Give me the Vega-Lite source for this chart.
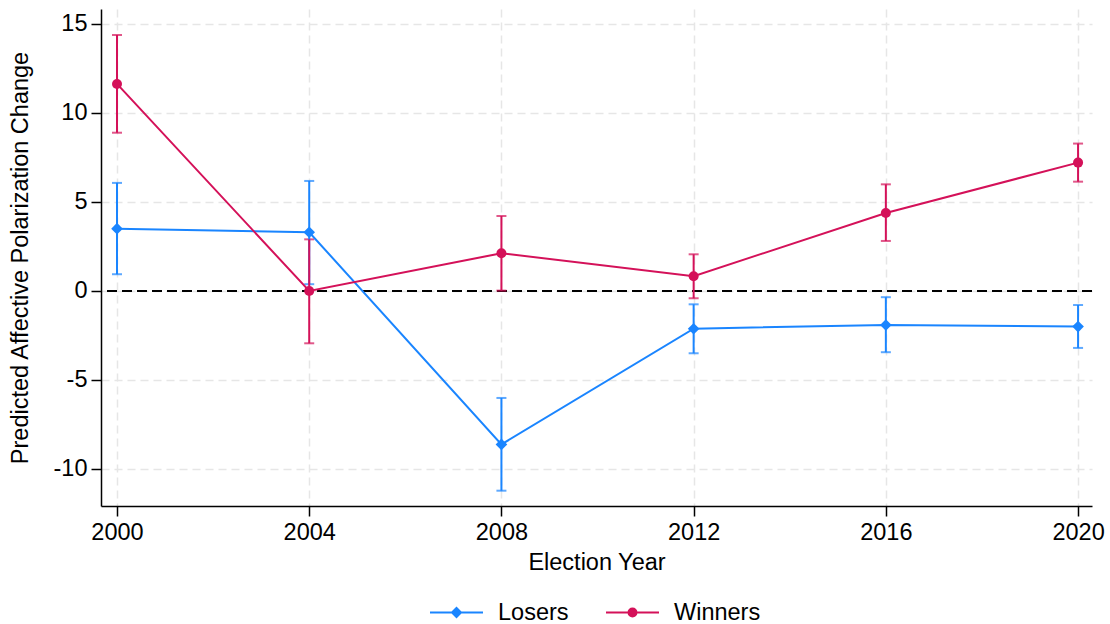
{
  "$schema": "https://vega.github.io/schema/vega-lite/v6.json",
  "width": 991,
  "height": 497,
  "autosize": {"type": "none"},
  "padding": {"left": 101, "top": 9, "right": 18, "bottom": 118},
  "background": "white",
  "config": {
    "font": "Liberation Sans",
    "view": {"stroke": null},
    "axis": {
      "labelFont": "Liberation Sans",
      "titleFont": "Liberation Sans",
      "labelFontSize": 23.5,
      "titleFontSize": 23.5,
      "titleFontWeight": "normal",
      "labelColor": "#000000",
      "titleColor": "#000000",
      "domainColor": "#000000",
      "domainWidth": 1.5,
      "tickColor": "#000000",
      "tickWidth": 1.5,
      "tickSize": 10,
      "labelPadding": 4,
      "grid": true,
      "gridColor": "#E6E6E6",
      "gridWidth": 1.5,
      "gridDash": [8, 5]
    }
  },
  "data": {
    "values": [
      {"year": 2000, "group": "Losers", "est": 3.5, "lo": 0.94, "hi": 6.07},
      {"year": 2004, "group": "Losers", "est": 3.3, "lo": 0.38, "hi": 6.18},
      {"year": 2008, "group": "Losers", "est": -8.62, "lo": -11.22, "hi": -6.01},
      {"year": 2012, "group": "Losers", "est": -2.12, "lo": -3.5, "hi": -0.75},
      {"year": 2016, "group": "Losers", "est": -1.91, "lo": -3.44, "hi": -0.35},
      {"year": 2020, "group": "Losers", "est": -2.0, "lo": -3.2, "hi": -0.79},
      {"year": 2000, "group": "Winners", "est": 11.63, "lo": 8.89, "hi": 14.38},
      {"year": 2004, "group": "Winners", "est": 0.0, "lo": -2.94, "hi": 2.9},
      {"year": 2008, "group": "Winners", "est": 2.12, "lo": 0.02, "hi": 4.21},
      {"year": 2012, "group": "Winners", "est": 0.83, "lo": -0.41, "hi": 2.06},
      {"year": 2016, "group": "Winners", "est": 4.38, "lo": 2.81, "hi": 5.99},
      {"year": 2020, "group": "Winners", "est": 7.21, "lo": 6.14, "hi": 8.28}
    ]
  },
  "encoding": {
    "x": {
      "field": "year",
      "type": "quantitative",
      "scale": {"domain": [1999.667, 2020.29], "nice": false, "zero": false},
      "axis": {"values": [2000, 2004, 2008, 2012, 2016, 2020], "format": "d", "title": "Election Year", "titlePadding": 7}
    },
    "color": {
      "field": "group",
      "type": "nominal",
      "scale": {"domain": ["Losers", "Winners"], "range": ["#1A85FF", "#D41159"]}
    }
  },
  "layer": [
    {
      "mark": {"type": "rule", "stroke": "#000000", "strokeWidth": 2, "strokeDash": [10, 5]},
      "encoding": {
        "x": null,
        "color": null,
        "y": {"datum": 0, "type": "quantitative"}
      }
    },
    {
      "mark": {"type": "errorbar", "ticks": {"size": 10}, "thickness": 2},
      "encoding": {
        "y": {
          "field": "lo",
          "type": "quantitative",
          "scale": {"domain": [-12.08, 15.84], "nice": false, "zero": false},
          "axis": {
            "values": [-10, -5, 0, 5, 10, 15],
            "labelExpr": "datum.value < 0 ? '-' + abs(datum.value) : '' + datum.value",
            "title": "Predicted Affective Polarization Change",
            "titlePadding": 21
          }
        },
        "y2": {"field": "hi"}
      }
    },
    {
      "mark": {"type": "line", "strokeWidth": 2},
      "encoding": {"y": {"field": "est", "type": "quantitative"}}
    },
    {
      "transform": [{"filter": "datum.group === 'Losers'"}],
      "mark": {"type": "point", "shape": "diamond", "filled": true, "size": 135, "opacity": 1},
      "encoding": {"y": {"field": "est", "type": "quantitative"}}
    },
    {
      "transform": [{"filter": "datum.group === 'Winners'"}],
      "mark": {"type": "point", "shape": "circle", "filled": true, "size": 100, "opacity": 1},
      "encoding": {"y": {"field": "est", "type": "quantitative"}}
    },
    {
      "mark": {"type": "point", "filled": true, "opacity": 0, "size": 2809},
      "encoding": {
        "y": {"field": "est", "type": "quantitative"},
        "shape": {
          "field": "group",
          "type": "nominal",
          "scale": {
            "domain": ["Losers", "Winners"],
            "range": [
              "M-1,0H1M-0.17,0L0,-0.17L0.17,0L0,0.17Z",
              "M-1,0H1M-0.15,0A0.15,0.15,0,1,1,0.15,0A0.15,0.15,0,1,1,-0.15,0Z"
            ]
          },
          "legend": null
        },
        "color": {
          "field": "group",
          "type": "nominal",
          "legend": {
            "title": null,
            "orient": "none",
            "legendX": 328,
            "legendY": 576,
            "direction": "horizontal",
            "labelFont": "Liberation Sans",
            "labelFontSize": 23.5,
            "labelColor": "#000000",
            "symbolSize": 2809,
            "symbolStrokeWidth": 2,
            "symbolOpacity": 1,
            "labelOffset": 14,
            "columnPadding": 33,
            "encode": {
              "symbols": {
                "update": {
                  "shape": {"scale": "shape", "field": "value"},
                  "fill": {"scale": "color", "field": "value"},
                  "stroke": {"scale": "color", "field": "value"},
                  "opacity": {"value": 1}
                }
              }
            }
          }
        }
      }
    }
  ]
}
